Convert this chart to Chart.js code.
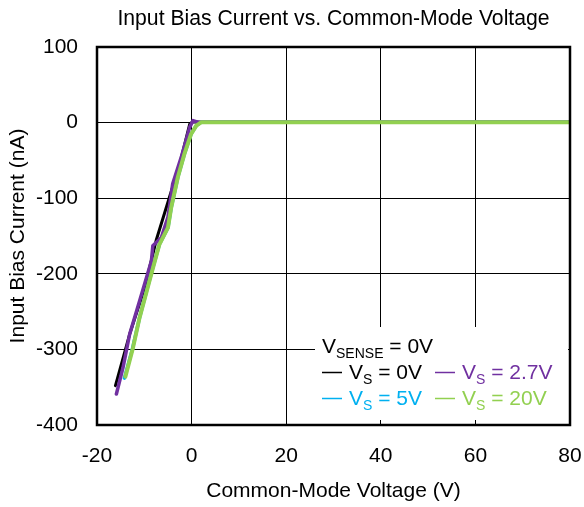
<!DOCTYPE html>
<html>
<head>
<meta charset="utf-8">
<script src="https://cdn.jsdelivr.net/npm/chart.js@4.4.0/dist/chart.umd.min.js"></script>
<style>
  html, body { margin: 0; padding: 0; background: #fff; }
  #wrap { width: 584px; height: 507px; }
</style>
</head>
<body>
<div id="wrap"><canvas id="biasChart" width="584" height="507"></canvas></div>
<script>
// ------------------------------------------------------------
// Data
// x = common-mode voltage (V), y = input bias current (nA)
// ------------------------------------------------------------
const xTicks = [-20, 0, 20, 40, 60, 80];
const yTicks = [100, 0, -100, -200, -300, -400];

// VS = 0V (black)
const vs0Volts   = [-16.1, -13.1, -9.9, -7.5, -4.7, -2.5, -0.4, 0.3, 2, 80];
const vs0Current = [-348, -280, -218, -156, -99, -55, -2, 1, 0.5, 0.5];

// VS = 5V (blue) — sits under the 20V trace
const vs5Volts   = [-14.2, -12.5, -11.0, -8.6, -6.8, -5.0, -4.3, -2.9, -1.5, -0.1, 1.0, 2.0, 80];
const vs5Current = [-338, -299, -258, -201, -161, -139, -112, -72, -41, -15, -4, 0.4, 0.4];

// VS = 2.7V (purple)
const vs27Volts   = [-15.9, -14.5, -13.1, -11.0, -8.5, -8.2, -6.4, -5.0, -4.0, -2.2, -0.4, 0.3, 1.3, 80];
const vs27Current = [-359, -324, -280, -236, -183, -163, -152, -125, -81, -46, -6, 2.6, 0.5, 0.5];

// VS = 20V (green)
const vs20Volts   = [-14.0, -12.4, -11.0, -8.5, -6.8, -5.0, -4.3, -2.9, -1.5, -0.1, 1.0, 2.0, 80];
const vs20Current = [-336, -298, -258, -200, -161, -139, -112, -72, -41, -15, -4, 0.4, 0.4];

const toPoints = (xs, ys) => xs.map((x, i) => ({ x: x, y: ys[i] }));

const FONT = '"Liberation Sans", Arial, sans-serif';
const COLORS = { vs0: '#000000', vs27: '#7030A0', vs5: '#00B0F0', vs20: '#92D050' };

// Title centred over the plot area
const titlePlugin = {
  id: 'plotTitle',
  afterDraw(chart) {
    const { ctx, chartArea } = chart;
    ctx.save();
    ctx.font = '21.2px ' + FONT;
    ctx.fillStyle = '#000';
    ctx.textAlign = 'center';
    ctx.textBaseline = 'alphabetic';
    ctx.fillText('Input Bias Current vs. Common-Mode Voltage', (chartArea.left + chartArea.right) / 2, 25);
    ctx.restore();
  }
};

// Frame around the plot area
const framePlugin = {
  id: 'frame',
  afterDatasetsDraw(chart) {
    const { ctx, chartArea: a } = chart;
    ctx.save();
    ctx.strokeStyle = '#000';
    ctx.lineWidth = 2.5;
    ctx.strokeRect(a.left, a.top, a.right - a.left, a.bottom - a.top);
    ctx.restore();
  }
};

// Legend box with subscripted labels
const legendPlugin = {
  id: 'subLegend',
  afterDatasetsDraw(chart) {
    const { ctx } = chart;
    ctx.save();
    ctx.fillStyle = '#fff';
    ctx.fillRect(315, 327, 253, 93);

    const big = '21px ' + FONT;
    const small = '14px ' + FONT;

    function label(x, y, color, sub, rest, dash) {
      ctx.fillStyle = color;
      ctx.strokeStyle = color;
      ctx.textBaseline = 'alphabetic';
      ctx.textAlign = 'left';
      if (dash) {
        ctx.lineWidth = 1.5;
        ctx.beginPath();
        ctx.moveTo(x, y - 6.5);
        ctx.lineTo(x + 20, y - 6.5);
        ctx.stroke();
        x += 27;
      }
      ctx.font = big;
      ctx.fillText('V', x, y);
      x += ctx.measureText('V').width;
      ctx.font = small;
      ctx.fillText(sub, x, y + 5);
      x += ctx.measureText(sub).width;
      ctx.font = big;
      ctx.fillText(rest, x, y);
    }

    label(322, 353, '#000', 'SENSE', ' = 0V', false);
    label(322, 379, COLORS.vs0, 'S', ' = 0V', true);
    label(435, 379, COLORS.vs27, 'S', ' = 2.7V', true);
    label(322, 405, COLORS.vs5, 'S', ' = 5V', true);
    label(435, 405, COLORS.vs20, 'S', ' = 20V', true);
    ctx.restore();
  }
};

const ctx = document.getElementById('biasChart').getContext('2d');
new Chart(ctx, {
  type: 'line',
  data: {
    datasets: [
      // higher "order" is drawn first (underneath)
      { label: 'VS = 0V',   data: toPoints(vs0Volts, vs0Current),   borderColor: COLORS.vs0,  borderWidth: 3,   order: 4 },
      { label: 'VS = 5V',   data: toPoints(vs5Volts, vs5Current),   borderColor: COLORS.vs5,  borderWidth: 3.5, order: 3 },
      { label: 'VS = 2.7V', data: toPoints(vs27Volts, vs27Current), borderColor: COLORS.vs27, borderWidth: 3.5, order: 2 },
      { label: 'VS = 20V',  data: toPoints(vs20Volts, vs20Current), borderColor: COLORS.vs20, borderWidth: 4,   order: 1 },
    ]
  },
  options: {
    responsive: false,
    animation: false,
    events: [],
    elements: {
      point: { radius: 0 },
      line: { tension: 0, borderJoinStyle: 'round', borderCapStyle: 'round' }
    },
    layout: { padding: { left: 0, right: 14, top: 47, bottom: 0 } },
    plugins: {
      legend: { display: false },
      title: { display: false },
      tooltip: { enabled: false }
    },
    scales: {
      x: {
        type: 'linear',
        min: -20,
        max: 80,
        afterFit: s => { s.height = 82; s.paddingLeft = 0; s.paddingRight = 0; },
        afterBuildTicks: s => { s.ticks = xTicks.map(v => ({ value: v })); },
        grid: { color: '#000', lineWidth: 1, drawTicks: false },
        border: { display: false },
        ticks: { color: '#000', font: { family: FONT, size: 21 }, padding: 19 },
        title: {
          display: true,
          text: 'Common-Mode Voltage (V)',
          color: '#000',
          font: { family: FONT, size: 21 },
          padding: { top: 0, bottom: 3 }
        }
      },
      y: {
        type: 'linear',
        min: -400,
        max: 100,
        afterFit: s => { s.width = 97; s.paddingTop = 0; s.paddingBottom = 0; },
        afterBuildTicks: s => { s.ticks = yTicks.map(v => ({ value: v })); },
        grid: { color: '#000', lineWidth: 1, drawTicks: false },
        border: { display: false },
        ticks: { color: '#000', font: { family: FONT, size: 21 }, padding: 19 },
        title: {
          display: true,
          text: 'Input Bias Current (nA)',
          color: '#000',
          font: { family: FONT, size: 21 },
          padding: { top: 6, bottom: 0 }
        }
      }
    }
  },
  plugins: [titlePlugin, framePlugin, legendPlugin]
});
</script>
</body>
</html>
